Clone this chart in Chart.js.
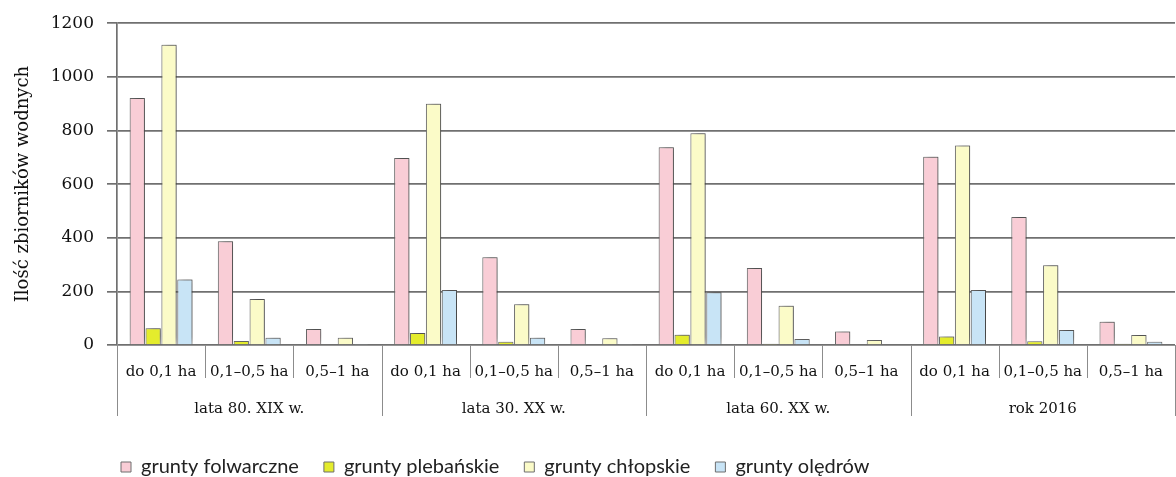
<!DOCTYPE html>
<html>
<head>
<meta charset="utf-8">
<script src="https://cdn.jsdelivr.net/npm/chart.js@4"></script>
<style>
  html, body { margin: 0; padding: 0; background: #fff; }
  #wrap { width: 1176px; height: 477px; }
</style>
</head>
<body>
<div id="wrap"><canvas id="myChart" width="1176" height="477"></canvas></div>
<script>
  // categories
  const periods = ['lata 80. XIX w.', 'lata 30. XX w.', 'lata 60. XX w.', 'rok 2016'];
  const sizes = ['do 0,1 ha', '0,1\u20130,5 ha', '0,5\u20131 ha'];
  const labels = periods.flatMap(() => sizes);

  // values (4 periods x 3 size classes)
  const folwarczne = [921, 387, 60, 697, 327, 60, 737, 287, 50, 702, 477, 87];
  const plebanskie = [62, 15, 2, 45, 12, 3, 38, 5, 2, 32, 14, 5];
  const chlopskie = [1120, 172, 27, 900, 152, 25, 790, 146, 19, 744, 297, 37];
  const oledrow = [244, 27, 4, 205, 27, 4, 197, 22, 3, 205, 56, 12];

  const yTicks = [0, 200, 400, 600, 800, 1000, 1200];

  const serif = "'DejaVu Serif', serif";
  const gridCol = '#707070';

  // soft shadow behind the bars, like the original 3D-ish look
  const barShadow = {
    id: 'barShadow',
    beforeDatasetsDraw(chart) {
      const c = chart.ctx;
      c.save();
      c.shadowColor = 'rgba(0,0,0,0.45)';
      c.shadowBlur = 7;
      c.shadowOffsetX = 3;
      c.shadowOffsetY = -2;
    },
    afterDatasetsDraw(chart) {
      chart.ctx.restore();
    }
  };

  // vertical separators under the x axis (short between sizes, long between periods)
  const separators = {
    id: 'separators',
    afterDraw(chart) {
      const x = chart.scales.x;
      const c = chart.ctx;
      const step = (x.right - x.left) / labels.length;
      const y0 = chart.chartArea.bottom;
      c.save();
      c.strokeStyle = '#8c8c8c';
      c.lineWidth = 1;
      for (let i = 0; i <= labels.length; i++) {
        const px = Math.round(x.getPixelForValue(0) - step / 2 + i * step) + 0.5;
        const len = i % sizes.length === 0 ? 71 : 33;
        c.beginPath();
        c.moveTo(px, y0);
        c.lineTo(px, y0 + len);
        c.stroke();
      }
      c.restore();
    }
  };

  // move the legend to where it sits in the original
  const legendPlace = {
    id: 'legendPlace',
    afterLayout(chart) {
      const lg = chart.legend;
      const pad = lg.options.labels.padding;
      const dx = 121 - pad - lg.left;
      lg.left += dx;
      lg.right += dx;
      const dy = 467 - 10 - pad - lg.top;
      lg.top += dy;
      lg.bottom += dy;
    }
  };

  const ds = (label, data, bg) => ({
    label, data,
    backgroundColor: bg,
    borderColor: '#6e6e6e',
    borderWidth: 1,
    categoryPercentage: 0.72,
    barPercentage: 0.96
  });

  new Chart(document.getElementById('myChart'), {
    type: 'bar',
    data: {
      labels: labels,
      datasets: [
        ds('grunty folwarczne', folwarczne, '#f9cdd6'),
        ds('grunty plebańskie', plebanskie, '#e4ec2c'),
        ds('grunty chłopskie', chlopskie, '#fbfbc8'),
        ds('grunty olędrów', oledrow, '#c8e4f6')
      ]
    },
    options: {
      responsive: false,
      animation: false,
      layout: { padding: { top: 15, right: 1, left: 0, bottom: 4 } },
      plugins: {
        tooltip: { enabled: false },
        legend: {
          position: 'bottom',
          align: 'start',
          labels: {
            boxWidth: 10,
            boxHeight: 10,
            padding: 25,
            color: '#222',
            font: { family: "Lato, sans-serif", size: 20 }
          }
        }
      },
      scales: {
        x: {
          type: 'category',
          offset: true,
          grid: { display: false },
          border: { display: false },
          ticks: {
            color: '#111',
            padding: 10,
            maxRotation: 0,
            autoSkip: false,
            font: { family: serif, size: 15 }
          },
          afterFit(s) { s.height = 35; }
        },
        x2: {
          type: 'category',
          labels: periods,
          offset: true,
          position: 'bottom',
          grid: { display: false },
          border: { display: false },
          ticks: {
            color: '#111',
            padding: 12,
            maxRotation: 0,
            font: { family: serif, size: 15 }
          },
          afterFit(s) { s.height = 38; }
        },
        y: {
          min: 0,
          max: 1200,
          afterBuildTicks(s) { s.ticks = yTicks.map(v => ({ value: v })); },
          grid: { color: gridCol, lineWidth: 1.7, tickLength: 10 },
          border: { color: gridCol, width: 1.7 },
          ticks: {
            color: '#111',
            padding: 13,
            font: { family: serif, size: 17 },
            callback: v => String(v)
          },
          title: {
            display: true,
            text: 'Ilość zbiorników wodnych',
            color: '#111',
            padding: { top: 13, bottom: 0 },
            font: { family: serif, size: 18 }
          },
          afterFit(s) { s.width = 117; }
        }
      }
    },
    plugins: [barShadow, separators, legendPlace]
  });
</script>
</body>
</html>
